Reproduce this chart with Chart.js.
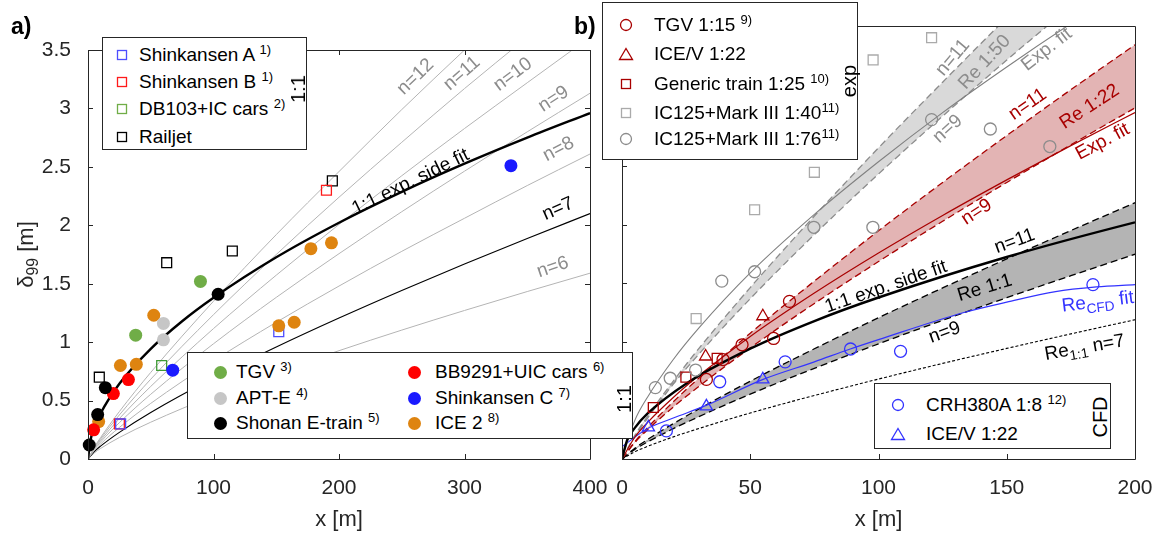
<!DOCTYPE html>
<html>
<head>
<meta charset="utf-8">
<title>delta99</title>
<script src="https://cdn.jsdelivr.net/npm/chart.js@4.4.1/dist/chart.umd.min.js"></script>
<style>
  body { margin: 0; background: #fff; }
  #wrap { position: relative; width: 1163px; height: 533px; overflow: hidden; font-family: "Liberation Sans", Arial, sans-serif; }
  #wrap canvas { position: absolute; top: 0; }
  .lg { position: absolute; background: #fff; border: 1.3px solid #262626; box-sizing: border-box; }
  .it { position: absolute; white-space: nowrap; font-size: 19px; line-height: 20px; color: #000; }
  .it sup { font-size: 13px; vertical-align: 7px; line-height: 0; }
  .mk { position: absolute; line-height: 0; }
  .ttl { position: absolute; font-size: 20px; line-height: 20px; white-space: nowrap; transform: translate(-50%, -50%) rotate(-90deg); }
  .pl { position: absolute; font-weight: bold; font-size: 23px; line-height: 23px; }
</style>
</head>
<body>
<div id="wrap">
  <canvas id="chartA" width="620" height="533" style="left:0px"></canvas>
  <canvas id="chartB" width="563" height="533" style="left:600px"></canvas>
  <div class="pl" style="left:11px; top:15px">a)</div>
  <div class="pl" style="left:574px; top:15px">b)</div>
</div>
<script>
// =====================
// TICKS
// =====================
const xTicksA = [0, 100, 200, 300, 400];
const xTicksB = [0, 50, 100, 150, 200];
const yTicks = [0, 0.5, 1, 1.5, 2, 2.5, 3, 3.5];

// =====================
// PANEL A - FULL SCALE DATA
// =====================
const shinkA_x = [26, 152];
const shinkA_y = [0.30, 1.09];
const shinkB_x = [25, 190];
const shinkB_y = [0.30, 2.30];
const db103_x = [58.7];
const db103_y = [0.80];
const railjet_x = [9, 62.7, 115, 194.7];
const railjet_y = [0.70, 1.68, 1.78, 2.38];

const tgv_x = [38, 89.6];
const tgv_y = [1.06, 1.52];
const apte_x = [60.1, 60.1];
const apte_y = [1.16, 1.02];
const shonan_x = [1, 7.7, 13.8, 103.7];
const shonan_y = [0.12, 0.38, 0.61, 1.41];
const bb9291_x = [4.5, 20.2, 32.2];
const bb9291_y = [0.25, 0.56, 0.68];
const shinkC_x = [67.5, 337];
const shinkC_y = [0.76, 2.51];
const ice2_x = [8.5, 25.8, 38.5, 52.4, 152, 164.3, 177.6, 194];
const ice2_y = [0.32, 0.80, 0.81, 1.23, 1.14, 1.17, 1.80, 1.85];

// power law curves
const curveXA = [0, 5, 10, 25, 50, 100, 150, 200, 250, 300, 350, 400];
const n12_y = [0, 0.10, 0.183, 0.406, 0.741, 1.35, 1.92, 2.46, 2.99, 3.50, 4.00, 4.49];
const n11_y = [0, 0.095, 0.172, 0.377, 0.683, 1.235, 1.75, 2.24, 2.71, 3.17, 3.61, 4.05];
const n10_y = [0, 0.089, 0.159, 0.346, 0.621, 1.116, 1.573, 2.007, 2.424, 2.828, 3.22, 3.61];
const n9_y = [0, 0.081, 0.145, 0.311, 0.554, 0.986, 1.383, 1.757, 2.116, 2.463, 2.80, 3.13];
const n8_y = [0, 0.072, 0.128, 0.270, 0.476, 0.840, 1.17, 1.48, 1.777, 2.06, 2.34, 2.61];
const n7_y = [0, 0.063, 0.110, 0.228, 0.398, 0.693, 0.958, 1.206, 1.442, 1.668, 1.887, 2.10];
const n6_y = [0, 0.052, 0.090, 0.184, 0.315, 0.541, 0.741, 0.927, 1.103, 1.271, 1.433, 1.59];

// 1:1 exp. side fit (both panels)
const fit_x = [0, 2, 5, 10, 25, 50, 75, 100, 150, 200, 250, 300, 350, 400];
const fit_y = [0, 0.161, 0.266, 0.389, 0.644, 0.943, 1.179, 1.380, 1.726, 2.022, 2.286, 2.527, 2.75, 2.96];

// =====================
// PANEL B - MODEL SCALE / CFD DATA
// =====================
const tgv15_x = [32.9, 39.4, 46.8, 59.1, 65.3];
const tgv15_y = [0.68, 0.85, 0.976, 1.03, 1.347];
const iceV_x = [32.6, 54.9];
const iceV_y = [0.876, 1.22];
const generic_x = [12.2, 24.9, 37.1];
const generic_y = [0.44, 0.70, 0.86];
const ic40_x = [28.9, 51.7, 75, 97.9, 120.7];
const ic40_y = [1.20, 2.13, 2.45, 3.41, 3.60];
const ic76_x = [13, 18.8, 28.7, 38.9, 51.7, 74.8, 97.8, 120.7, 143.6, 166.8];
const ic76_y = [0.61, 0.69, 0.76, 1.52, 1.60, 1.98, 1.98, 2.90, 2.82, 2.67];
const crh_x = [17.3, 38.1, 63.6, 89.1, 108.6, 183.6];
const crh_y = [0.24, 0.66, 0.83, 0.94, 0.92, 1.49];
const iceCfd_x = [10.3, 32.9, 54.9];
const iceCfd_y = [0.27, 0.45, 0.68];

const curveXB = [0, 5, 10, 20, 30, 50, 75, 100, 125, 150, 175, 200];
const re50hi_y = [0, 0.202, 0.367, 0.666, 0.945, 1.465, 2.076, 2.659, 3.22, 3.77, 4.30, 4.83];
const re50lo_y = [0, 0.19, 0.35, 0.640, 0.897, 1.370, 1.918, 2.435, 2.93, 3.409, 3.87, 4.33];
const exp50_y = [0, 0.33, 0.53, 0.85, 1.12, 1.59, 2.09, 2.54, 2.96, 3.35, 3.72, 4.07];
const re22hi_y = [0, 0.148, 0.269, 0.489, 0.692, 1.075, 1.52, 1.95, 2.363, 2.764, 3.156, 3.54];
const re22lo_y = [0, 0.140, 0.250, 0.444, 0.621, 0.949, 1.329, 1.687, 2.031, 2.363, 2.685, 3.00];
const exp22_y = [0, 0.186, 0.313, 0.526, 0.713, 1.047, 1.418, 1.760, 2.081, 2.385, 2.678, 2.96];
const re1hi_y = [0, 0.092, 0.167, 0.302, 0.428, 0.665, 0.942, 1.207, 1.462, 1.710, 1.952, 2.19];
const re1lo_y = [0, 0.082, 0.146, 0.259, 0.362, 0.554, 0.775, 0.984, 1.185, 1.378, 1.566, 1.75];
const re1n7_y = [0, 0.062, 0.108, 0.189, 0.261, 0.393, 0.543, 0.683, 0.817, 0.945, 1.069, 1.19];
const cfdFit_x = [0, 10, 20, 33, 55, 75, 89, 100, 133, 150, 169, 185, 200];
const cfdFit_y = [0.105, 0.26, 0.35, 0.46, 0.68, 0.83, 0.94, 1.02, 1.25, 1.34, 1.43, 1.47, 1.49];

// =====================
// STYLE
// =====================
const FONT = "'Liberation Sans', Arial, sans-serif";
const AXIS = '#262626';
const GRAY_LINE = '#b4b4b4';
const GRAY_TXT = '#8c8c8c';
const DRED = '#a80000';
const BLUE = '#3333ff';

const labelsA = [
  { t: 'n=12', x: 261, y: 3.27, r: -44, c: GRAY_TXT },
  { t: 'n=11', x: 298, y: 3.30, r: -41, c: GRAY_TXT },
  { t: 'n=10', x: 338.6, y: 3.29, r: -37, c: GRAY_TXT },
  { t: 'n=9', x: 371, y: 3.08, r: -33, c: GRAY_TXT },
  { t: 'n=8', x: 375, y: 2.65, r: -28, c: GRAY_TXT },
  { t: 'n=7', x: 374.5, y: 2.14, r: -24, c: '#000' },
  { t: 'n=6', x: 370.4, y: 1.64, r: -19, c: GRAY_TXT },
  { t: '1:1 exp. side fit', x: 257, y: 2.37, r: -26, c: '#000' }
];

const labelsB = [
  { t: 'n=11', x: 129, y: 3.43, r: -50, c: GRAY_TXT },
  { t: 'Re 1:50', x: 141.4, y: 3.39, r: -47, c: GRAY_TXT },
  { t: 'Exp. fit', x: 165.6, y: 3.50, r: -38, c: GRAY_TXT },
  { t: 'n=9', x: 127, y: 2.82, r: -42, c: GRAY_TXT },
  { t: 'n=11', x: 158.2, y: 3.03, r: -35, c: DRED },
  { t: 'Re 1:22', x: 182.3, y: 3.01, r: -33, c: DRED },
  { t: 'Exp. fit', x: 187.4, y: 2.71, r: -28, c: DRED },
  { t: 'n=9', x: 138.3, y: 2.11, r: -33, c: DRED },
  { t: 'n=11', x: 153.1, y: 1.86, r: -20, c: '#000' },
  { t: 'Re 1:1', x: 141.4, y: 1.46, r: -17, c: '#000' },
  { t: '1:1 exp. side fit', x: 102.9, y: 1.47, r: -19, c: '#000' },
  { t: 'Re_{CFD} fit', x: 185.5, y: 1.34, r: -7, c: BLUE },
  { t: 'n=9', x: 125.8, y: 1.08, r: -20, c: '#000' },
  { t: 'Re_{1:1} n=7', x: 180.4, y: 0.95, r: -10, c: '#000' }
];

// =====================
// HELPERS
// =====================
function pts(xs, ys) {
  return xs.map((x, i) => ({ x: x, y: ys[i] }));
}

function curve(xs, ys, color, width, extra) {
  return Object.assign({
    data: pts(xs, ys), borderColor: color, borderWidth: width, pointRadius: 0,
    cubicInterpolationMode: 'monotone', fill: false, order: 10
  }, extra || {});
}

function marks(xs, ys, style, color, filled, r, order) {
  return {
    data: pts(xs, ys), showLine: false, pointStyle: style, pointRadius: r,
    pointBorderColor: color, pointBackgroundColor: filled ? color : 'rgba(0,0,0,0)',
    pointBorderWidth: filled ? 0 : 1.3, clip: false, order: order || 0
  };
}

function richParts(s) {
  return s.split(/(_\{[^}]*\})/).filter(p => p).map(p =>
    p.startsWith('_{') ? { t: p.slice(2, -1), sub: true } : { t: p, sub: false });
}

function drawRich(ctx, s, cx, cy, rot, color, size) {
  const parts = richParts(s);
  ctx.save();
  ctx.translate(cx, cy);
  ctx.rotate(rot * Math.PI / 180);
  ctx.fillStyle = color;
  ctx.textBaseline = 'middle';
  ctx.textAlign = 'left';
  let w = 0;
  parts.forEach(p => {
    ctx.font = (p.sub ? size * 0.72 : size) + 'px ' + FONT;
    p.w = ctx.measureText(p.t).width;
    w += p.w;
  });
  let x = -w / 2;
  parts.forEach(p => {
    ctx.font = (p.sub ? size * 0.72 : size) + 'px ' + FONT;
    ctx.fillText(p.t, x, p.sub ? size * 0.32 : 0);
    x += p.w;
  });
  ctx.restore();
}

// frame, inward ticks, in-plot labels, axis titles
const axesPlus = {
  id: 'axesPlus',
  afterDatasetsDraw(chart, args, o) {
    const ctx = chart.ctx;
    const a = chart.chartArea;
    const sx = chart.scales.x, sy = chart.scales.y;
    ctx.save();
    ctx.strokeStyle = AXIS;
    ctx.lineWidth = 1;
    ctx.beginPath();
    ctx.rect(a.left + 0.5, a.top + 0.5, a.right - a.left, a.bottom - a.top);
    o.xTicks.forEach(v => {
      const px = Math.round(sx.getPixelForValue(v)) + 0.5;
      ctx.moveTo(px, a.bottom); ctx.lineTo(px, a.bottom - 5);
      if (o.box) { ctx.moveTo(px, a.top); ctx.lineTo(px, a.top + 5); }
    });
    o.yTicks.forEach(v => {
      const py = Math.round(sy.getPixelForValue(v)) + 0.5;
      ctx.moveTo(a.left, py); ctx.lineTo(a.left + 5, py);
      if (o.box) { ctx.moveTo(a.right, py); ctx.lineTo(a.right - 5, py); }
    });
    ctx.stroke();
    ctx.restore();
    o.labels.forEach(l => drawRich(ctx, l.t, sx.getPixelForValue(l.x), sy.getPixelForValue(l.y), l.r, l.c, 19));
    drawRich(ctx, 'x [m]', (a.left + a.right) / 2, 520, 0, AXIS, 22);
    if (o.yTitle) drawRich(ctx, o.yTitle, 27, (a.top + a.bottom) / 2, -90, AXIS, 22);
  }
};

function xScale(max, ticks) {
  return {
    type: 'linear', min: 0, max: max,
    grid: { display: false }, border: { display: false },
    afterBuildTicks: s => { s.ticks = ticks.map(v => ({ value: v })); },
    afterFit: s => { s.height = 74; },
    ticks: { color: AXIS, font: { family: FONT, size: 21 }, padding: 9, maxRotation: 0, autoSkip: false }
  };
}

function yScale(max, width, show) {
  return {
    type: 'linear', min: 0, max: max,
    grid: { display: false }, border: { display: false },
    afterBuildTicks: s => { s.ticks = yTicks.map(v => ({ value: v })); },
    afterFit: s => { s.width = width; },
    ticks: { display: show, color: AXIS, font: { family: FONT, size: 21 }, padding: 9, autoSkip: false,
      callback: v => String(v) }
  };
}

// =====================
// GRAFIK A
// =====================
new Chart(document.getElementById('chartA'), {
  type: 'line',
  data: {
    datasets: [
      marks(tgv_x, tgv_y, 'circle', '#70ad47', true, 6.5),
      marks(apte_x, apte_y, 'circle', '#c6c6c6', true, 6.5),
      marks(shonan_x, shonan_y, 'circle', '#000000', true, 6.5),
      marks(bb9291_x, bb9291_y, 'circle', '#ff0000', true, 6.5),
      marks(shinkC_x, shinkC_y, 'circle', '#1a1aff', true, 6.5),
      marks(ice2_x, ice2_y, 'circle', '#de8410', true, 6.5),
      marks(shinkA_x, shinkA_y, 'rect', '#4d4dff', false, 7, 1),
      marks(shinkB_x, shinkB_y, 'rect', '#ff1a1a', false, 7, 1),
      marks(db103_x, db103_y, 'rect', '#3f9a35', false, 7, 1),
      marks(railjet_x, railjet_y, 'rect', '#000000', false, 7, 1),
      curve(fit_x, fit_y, '#000000', 2.4, { order: 5 }),
      curve(curveXA, n12_y, GRAY_LINE, 1),
      curve(curveXA, n11_y, GRAY_LINE, 1),
      curve(curveXA, n10_y, GRAY_LINE, 1),
      curve(curveXA, n9_y, GRAY_LINE, 1),
      curve(curveXA, n8_y, GRAY_LINE, 1),
      curve(curveXA, n7_y, '#000000', 1.1),
      curve(curveXA, n6_y, GRAY_LINE, 1)
    ]
  },
  options: {
    responsive: false,
    animation: false,
    events: [],
    layout: { autoPadding: false, padding: { left: 0, right: 30, top: 50, bottom: 0 } },
    plugins: {
      legend: { display: false },
      tooltip: { enabled: false },
      axesPlus: { xTicks: xTicksA, yTicks: yTicks, box: true, labels: labelsA, yTitle: '\u03b4_{99} [m]' }
    },
    scales: { x: xScale(400, xTicksA), y: yScale(3.5, 88, true) }
  },
  plugins: [axesPlus]
});

// =====================
// GRAFIK B
// =====================
new Chart(document.getElementById('chartB'), {
  type: 'line',
  data: {
    datasets: [
      // bands: upper line fills down to the next dataset
      curve(curveXB, re50hi_y, '#8c8c8c', 1.3, { borderDash: [7, 4], fill: '+1', backgroundColor: '#d9d9d9', order: 30 }),
      curve(curveXB, re50lo_y, '#8c8c8c', 1.3, { borderDash: [7, 4], order: 25 }),
      curve(curveXB, re22hi_y, DRED, 1.3, { borderDash: [7, 4], fill: '+1', backgroundColor: '#e3b4b4', order: 30 }),
      curve(curveXB, re22lo_y, DRED, 1.3, { borderDash: [7, 4], order: 25 }),
      curve(curveXB, re1hi_y, '#000000', 1.3, { borderDash: [7, 4], fill: '+1', backgroundColor: '#b4b4b4', order: 30 }),
      curve(curveXB, re1lo_y, '#000000', 1.3, { borderDash: [7, 4], order: 25 }),
      curve(curveXB, exp50_y, '#808080', 1.1),
      curve(curveXB, exp22_y, DRED, 1.2),
      curve(fit_x, fit_y, '#000000', 2.4, { order: 5 }),
      curve(cfdFit_x, cfdFit_y, BLUE, 1.2),
      curve(curveXB, re1n7_y, '#000000', 1.1, { borderDash: [3, 2] }),
      marks(ic40_x, ic40_y, 'rect', '#aaaaaa', false, 7),
      marks(ic76_x, ic76_y, 'circle', '#8c8c8c', false, 6),
      marks(tgv15_x, tgv15_y, 'circle', DRED, false, 6),
      marks(iceV_x, iceV_y, 'triangle', DRED, false, 7),
      marks(generic_x, generic_y, 'rect', DRED, false, 7),
      marks(crh_x, crh_y, 'circle', BLUE, false, 6),
      marks(iceCfd_x, iceCfd_y, 'triangle', BLUE, false, 7)
    ]
  },
  options: {
    responsive: false,
    animation: false,
    events: [],
    layout: { autoPadding: false, padding: { left: 0, right: 28, top: 26, bottom: 0 } },
    plugins: {
      legend: { display: false },
      tooltip: { enabled: false },
      axesPlus: { xTicks: xTicksB, yTicks: yTicks, box: false, labels: labelsB }
    },
    scales: { x: xScale(200, xTicksB), y: yScale(3.7, 22, false) }
  },
  plugins: [axesPlus]
});

// =====================
// LEGENDS (html boxes on top of both panels)
// =====================
const legendBoxes = [
  { pos: [102, 37, 205, 113], ttl: ['1:1', 195, 51], items: [
    { x: 19, y: 17, m: 'sq', c: '#4d4dff', t: 'Shinkansen A ', s: '1)', tx: 36 },
    { x: 19, y: 44, m: 'sq', c: '#ff1a1a', t: 'Shinkansen B ', s: '1)', tx: 36 },
    { x: 19, y: 71, m: 'sq', c: '#70ad47', t: 'DB103+IC cars ', s: '2)', tx: 36 },
    { x: 19, y: 99, m: 'sq', c: '#000000', t: 'Railjet', tx: 36 }
  ]},
  { pos: [187, 352, 446, 87], ttl: ['1:1', 436, 46], items: [
    { x: 32, y: 19, m: 'dot', c: '#70ad47', t: 'TGV ', s: '3)', tx: 48 },
    { x: 32, y: 45, m: 'dot', c: '#c6c6c6', t: 'APT-E ', s: '4)', tx: 48 },
    { x: 32, y: 70, m: 'dot', c: '#000000', t: 'Shonan E-train ', s: '5)', tx: 48 },
    { x: 226, y: 19, m: 'dot', c: '#ff0000', t: 'BB9291+UIC cars ', s: '6)', tx: 247 },
    { x: 226, y: 45, m: 'dot', c: '#1a1aff', t: 'Shinkansen C ', s: '7)', tx: 247 },
    { x: 226, y: 70, m: 'dot', c: '#de8410', t: 'ICE 2 ', s: '8)', tx: 247 }
  ]},
  { pos: [602, 2, 256, 158], ttl: ['exp', 246, 78], items: [
    { x: 23, y: 22, m: 'o', c: DRED, t: 'TGV 1:15 ', s: '9)', tx: 51 },
    { x: 23, y: 51, m: 'tri', c: DRED, t: 'ICE/V 1:22', tx: 51 },
    { x: 23, y: 81, m: 'sq', c: DRED, t: 'Generic train 1:25 ', s: '10)', tx: 51 },
    { x: 23, y: 110, m: 'sq', c: '#aaaaaa', t: 'IC125+Mark III 1:40', s: '11)', tx: 51 },
    { x: 23, y: 136, m: 'o', c: '#8c8c8c', t: 'IC125+Mark III 1:76', s: '11)', tx: 51 }
  ]},
  { pos: [874, 383, 237, 66], ttl: ['CFD', 225, 33], items: [
    { x: 23, y: 21, m: 'o', c: BLUE, t: 'CRH380A 1:8 ', s: '12)', tx: 51 },
    { x: 23, y: 50, m: 'tri', c: BLUE, t: 'ICE/V 1:22', tx: 51 }
  ]}
];

const markerSize = { sq: [12, 12], dot: [15, 15], o: [14, 14], tri: [16, 14] };

function markerSvg(m, c) {
  if (m === 'sq') return `<svg width="12" height="12"><rect x="1.5" y="1.5" width="9" height="9" fill="none" stroke="${c}" stroke-width="1.3"/></svg>`;
  if (m === 'dot') return `<svg width="15" height="15"><circle cx="7.5" cy="7.5" r="6.5" fill="${c}"/></svg>`;
  if (m === 'o') return `<svg width="14" height="14"><circle cx="7" cy="7" r="5.5" fill="none" stroke="${c}" stroke-width="1.3"/></svg>`;
  return `<svg width="16" height="14"><polygon points="8,1.5 14.5,12.5 1.5,12.5" fill="none" stroke="${c}" stroke-width="1.3"/></svg>`;
}

const wrap = document.getElementById('wrap');
legendBoxes.forEach(b => {
  const box = document.createElement('div');
  box.className = 'lg';
  box.style.cssText = `left:${b.pos[0]}px;top:${b.pos[1]}px;width:${b.pos[2]}px;height:${b.pos[3]}px`;
  b.items.forEach(it => {
    const sz = markerSize[it.m];
    const mk = document.createElement('div');
    mk.className = 'mk';
    mk.style.cssText = `left:${it.x - sz[0] / 2}px;top:${it.y - sz[1] / 2}px`;
    mk.innerHTML = markerSvg(it.m, it.c);
    box.appendChild(mk);
    const tx = document.createElement('div');
    tx.className = 'it';
    tx.style.cssText = `left:${it.tx}px;top:${it.y - 10}px`;
    tx.innerHTML = it.t + (it.s ? '<sup>' + it.s + '</sup>' : '');
    box.appendChild(tx);
  });
  const ttl = document.createElement('div');
  ttl.className = 'ttl';
  ttl.style.cssText = `left:${b.ttl[1]}px;top:${b.ttl[2]}px`;
  ttl.textContent = b.ttl[0];
  box.appendChild(ttl);
  wrap.appendChild(box);
});
</script>
</body>
</html>
